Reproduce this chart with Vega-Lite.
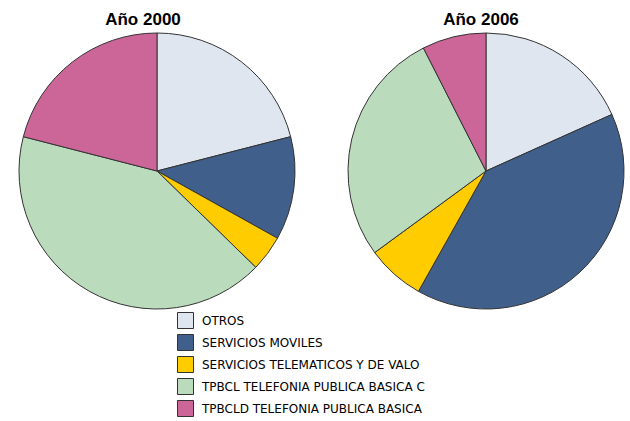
{
  "$schema": "https://vega.github.io/schema/vega-lite/v6.json",
  "padding": {"left": 17, "top": 11, "right": 0, "bottom": 0},
  "bounds": "flush",
  "background": "white",
  "data": {"values": [
    {"anio": "2000", "cat": "OTROS", "v": 21.0},
    {"anio": "2000", "cat": "SERVICIOS MOVILES", "v": 12.1},
    {"anio": "2000", "cat": "SERVICIOS TELEMATICOS Y DE VALO", "v": 4.2},
    {"anio": "2000", "cat": "TPBCL TELEFONIA PUBLICA BASICA C", "v": 41.7},
    {"anio": "2000", "cat": "TPBCLD TELEFONIA PUBLICA BASICA", "v": 21.0},
    {"anio": "2006", "cat": "OTROS", "v": 18.3},
    {"anio": "2006", "cat": "SERVICIOS MOVILES", "v": 39.9},
    {"anio": "2006", "cat": "SERVICIOS TELEMATICOS Y DE VALO", "v": 6.8},
    {"anio": "2006", "cat": "TPBCL TELEFONIA PUBLICA BASICA C", "v": 27.6},
    {"anio": "2006", "cat": "TPBCLD TELEFONIA PUBLICA BASICA", "v": 7.5}
  ]},
  "spacing": 49,
  "hconcat": [
    {
      "title": {"text": "Año 2000", "dx": -14},
      "width": 280, "height": 280,
      "transform": [{"filter": "datum.anio == '2000'"}],
      "mark": {"type": "arc", "stroke": "#333333", "strokeWidth": 1, "outerRadius": 138},
      "encoding": {
        "theta": {"field": "v", "type": "quantitative", "stack": true},
        "color": {"field": "cat", "type": "nominal"}
      }
    },
    {
      "title": {"text": "Año 2006", "dx": -5},
      "width": 280, "height": 280,
      "transform": [{"filter": "datum.anio == '2006'"}],
      "mark": {"type": "arc", "stroke": "#333333", "strokeWidth": 1, "outerRadius": 138},
      "encoding": {
        "theta": {"field": "v", "type": "quantitative", "stack": true},
        "color": {"field": "cat", "type": "nominal"}
      }
    }
  ],
  "resolve": {"scale": {"color": "shared"}},
  "config": {
    "view": {"stroke": null},
    "title": {"font": "Liberation Sans", "fontSize": 17, "fontWeight": "bold", "color": "#000000", "anchor": "middle", "offset": 2},
    "range": {"category": ["#dfe6f0", "#415f8b", "#ffcc00", "#bbdcbc", "#cc6699"]},
    "legend": {
      "orient": "none",
      "legendX": 160,
      "legendY": 281,
      "title": null,
      "symbolType": "square",
      "symbolSize": 256,
      "symbolStrokeColor": "#333333",
      "symbolStrokeWidth": 1,
      "symbolOpacity": 1,
      "labelFont": "DejaVu Sans",
      "labelFontSize": 12,
      "labelColor": "#000000",
      "labelOffset": 8,
      "labelLimit": 400,
      "rowPadding": 1
    }
  }
}
